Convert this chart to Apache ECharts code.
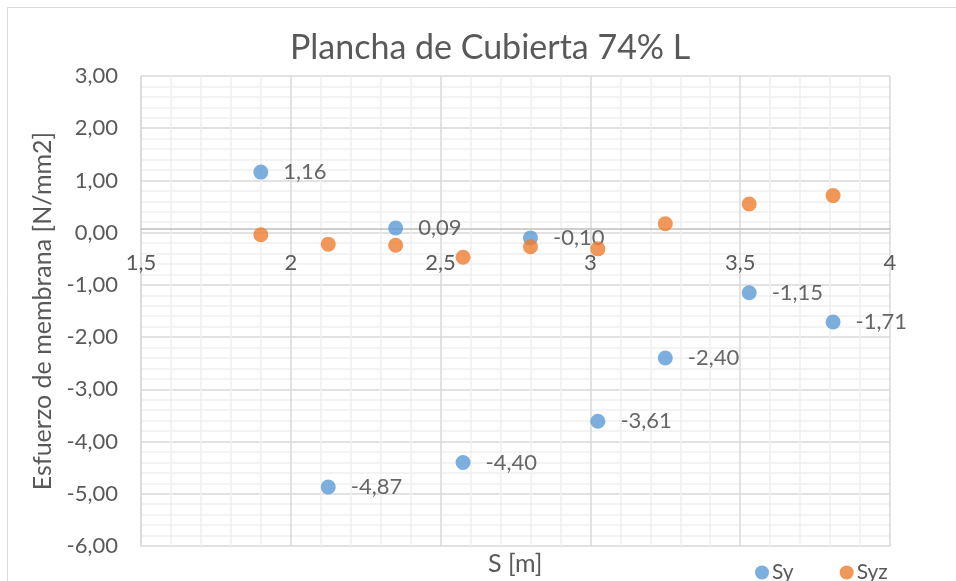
<!DOCTYPE html>
<html>
<head>
<meta charset="utf-8">
<style>
  html, body { margin: 0; padding: 0; background: #ffffff; }
  #chart { width: 956px; height: 581px; }
</style>
<script src="https://cdn.jsdelivr.net/npm/echarts@6/dist/echarts.min.js"></script>
</head>
<body>
<div id="chart"></div>
<script>
// Station positions along the plate [m]
const stations = [1.90, 2.125, 2.35, 2.575, 2.80, 3.025, 3.25, 3.53, 3.81];
// Membrane stresses [N/mm2]
const sy  = [1.16, -4.87, 0.09, -4.40, -0.10, -3.61, -2.40, -1.15, -1.71];
const syz = [-0.04, -0.22, -0.24, -0.47, -0.27, -0.31, 0.17, 0.55, 0.71];
const seriesNames = ['Sy', 'Syz'];
const chartTitle = 'Plancha de Cubierta 74% L';
const xName = 'S [m]';
const yName = 'Esfuerzo de membrana [N/mm2]';

const FONT = 'Lato, "Open Sans", sans-serif';
const comma = (v, d) => v.toFixed(d).replace('.', ',');
const pairs = ys => stations.map((x, i) => [x, ys[i]]);

const GRID = { left: 141, right: 66, top: 76, bottom: 35 };

const chart = echarts.init(document.getElementById('chart'), null, { renderer: 'canvas' });

const option = {
  backgroundColor: '#ffffff',
  animation: false,
  textStyle: { fontFamily: FONT },
  title: {
    text: chartTitle,
    left: 285,
    top: 26,
    textStyle: { fontFamily: FONT, fontSize: 34, fontWeight: 'normal', color: '#595959' }
  },
  legend: {
    data: seriesNames,
    left: 750,
    top: 557,
    icon: 'circle',
    itemWidth: 14,
    itemHeight: 14,
    itemGap: 46,
    textStyle: { fontFamily: FONT, fontSize: 21, color: '#595959', padding: [0, 0, 0, -2] }
  },
  graphic: [
    {
      type: 'rect',
      shape: { x: 7.5, y: 7.5, width: 1200, height: 1200 },
      style: { fill: 'none', stroke: '#d9d9d9', lineWidth: 1 },
      silent: true,
      z: -10
    },
    {
      type: 'text',
      left: 488,
      top: 551,
      style: { text: xName, font: '25px ' + FONT, fill: '#595959' }
    }
  ],
  grid: Object.assign({ containLabel: false }, GRID),
  xAxis: {
    type: 'value',
    min: 1.5,
    max: 4,
    interval: 0.5,
    offset: 0,
    axisLine: { show: true, onZero: false, lineStyle: { color: '#bfbfbf', width: 1.5 } },
    axisTick: { show: false },
    axisLabel: {
      margin: 18,
      padding: [5, 0, 0, 0],
      fontFamily: FONT,
      fontSize: 22,
      color: '#595959',
      formatter: v => String(v).replace('.', ',')
    },
    splitLine: { show: true, lineStyle: { color: '#d9d9d9', width: 1.5 } },
    minorTick: { show: false, splitNumber: 5 },
    minorSplitLine: { show: true, lineStyle: { color: '#f0f0f0', width: 1.5 } }
  },
  yAxis: {
    type: 'value',
    min: -6,
    max: 3,
    interval: 1,
    name: yName,
    nameLocation: 'middle',
    nameGap: 82,
    nameTextStyle: { fontFamily: FONT, fontSize: 25, color: '#595959' },
    axisLine: { show: true, onZero: false, lineStyle: { color: '#d9d9d9', width: 1.5 } },
    axisTick: { show: false },
    axisLabel: {
      margin: 23,
      fontFamily: FONT,
      fontSize: 22,
      color: '#595959',
      formatter: v => comma(v, 2)
    },
    splitLine: { show: true, lineStyle: { color: '#d9d9d9', width: 1.5 } },
    minorTick: { show: false, splitNumber: 5 },
    minorSplitLine: { show: true, lineStyle: { color: '#f0f0f0', width: 1.5 } }
  },
  series: [
    {
      name: seriesNames[0],
      type: 'scatter',
      data: pairs(sy),
      symbol: 'circle',
      symbolSize: 15,
      itemStyle: { color: '#5b9bd5' },
      z: 3,
      label: {
        show: true,
        position: 'right',
        distance: 15,
        fontFamily: FONT,
        fontSize: 22,
        color: '#404040',
        formatter: p => comma(p.value[1], 2)
      }
    },
    {
      name: seriesNames[1],
      type: 'scatter',
      data: pairs(syz),
      symbol: 'circle',
      symbolSize: 15,
      itemStyle: { color: '#ed7d31' },
      z: 4
    }
  ]
};

chart.setOption(option);

// The horizontal axis crosses the vertical one at zero: move it up from the
// grid bottom to the pixel row of y = 0 given by the y scale.
const zeroY = chart.convertToPixel({ yAxisIndex: 0 }, 0);
const bottomY = chart.getHeight() - GRID.bottom;
chart.setOption({ xAxis: { offset: Math.round(zeroY - bottomY) } });
</script>
</body>
</html>
